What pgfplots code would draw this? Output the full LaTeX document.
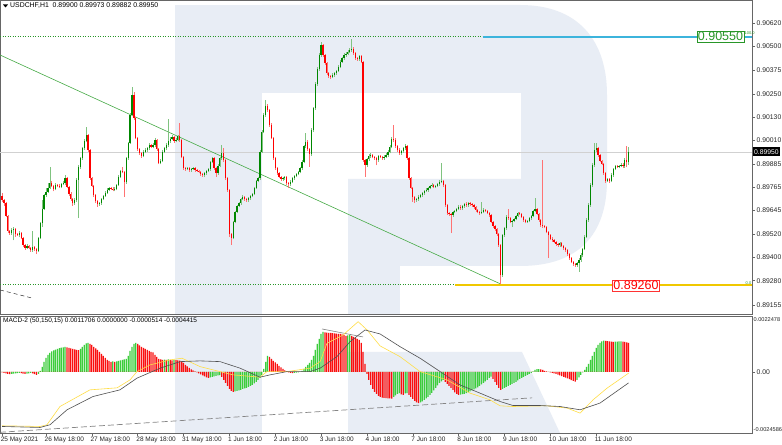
\documentclass[border=0pt]{standalone}
\usepackage{fontspec}
\setmainfont{Liberation Sans}
\usepackage{pgfplots}
\pgfplotsset{compat=1.18}
\usepackage{pgfplotstable}
\definecolor{cgreen}{RGB}{0,135,0}
\definecolor{cred}{RGB}{255,0,0}
\definecolor{hgreen}{RGB}{60,205,60}
\definecolor{hred}{RGB}{250,15,15}
\definecolor{wm}{RGB}{232,237,245}
\definecolor{trend}{RGB}{70,170,70}
\definecolor{cyanl}{RGB}{60,180,220}
\definecolor{gold}{RGB}{240,200,0}
\definecolor{macdy}{RGB}{255,222,70}
\definecolor{macdg}{RGB}{80,80,80}
\definecolor{lblgreen}{RGB}{40,150,40}
\newcommand{\tf}{\fontsize{6.5bp}{7bp}\selectfont}
\newcommand{\hf}{\fontsize{6.9bp}{7.5bp}\selectfont}
\newcommand{\yf}{\fontsize{6.8bp}{7bp}\selectfont}
\pgfplotstableread{
i o h l c
0 0.89721 0.89736 0.89690 0.89700
1 0.89700 0.89706 0.89670 0.89684
2 0.89684 0.89690 0.89610 0.89617
3 0.89617 0.89623 0.89530 0.89539
4 0.89539 0.89545 0.89518 0.89528
5 0.89528 0.89552 0.89520 0.89544
6 0.89544 0.89560 0.89490 0.89549
7 0.89549 0.89555 0.89510 0.89523
8 0.89523 0.89530 0.89512 0.89520
9 0.89520 0.89540 0.89505 0.89528
10 0.89528 0.89534 0.89496 0.89502
11 0.89502 0.89508 0.89458 0.89466
12 0.89466 0.89472 0.89440 0.89450
13 0.89450 0.89470 0.89444 0.89461
14 0.89461 0.89467 0.89443 0.89450
15 0.89450 0.89456 0.89432 0.89440
16 0.89440 0.89540 0.89432 0.89456
17 0.89456 0.89462 0.89437 0.89445
18 0.89445 0.89451 0.89419 0.89435
19 0.89435 0.89508 0.89429 0.89502
20 0.89502 0.89586 0.89496 0.89580
21 0.89580 0.89700 0.89560 0.89653
22 0.89653 0.89732 0.89647 0.89726
23 0.89726 0.89760 0.89715 0.89742
24 0.89742 0.89790 0.89735 0.89762
25 0.89762 0.89872 0.89755 0.89788
26 0.89788 0.89800 0.89765 0.89773
27 0.89773 0.89780 0.89745 0.89757
28 0.89757 0.89790 0.89750 0.89778
29 0.89778 0.89785 0.89765 0.89773
30 0.89773 0.89782 0.89760 0.89768
31 0.89768 0.89790 0.89760 0.89783
32 0.89783 0.89800 0.89776 0.89788
33 0.89788 0.89830 0.89780 0.89814
34 0.89814 0.89820 0.89760 0.89768
35 0.89768 0.89775 0.89722 0.89731
36 0.89731 0.89740 0.89695 0.89705
37 0.89705 0.89712 0.89670 0.89684
38 0.89684 0.89710 0.89676 0.89700
39 0.89700 0.89812 0.89690 0.89804
40 0.89804 0.89880 0.89606 0.89872
41 0.89872 0.89925 0.89860 0.89918
42 0.89918 0.89976 0.89910 0.89970
43 0.89970 0.90015 0.89960 0.90007
44 0.90007 0.90080 0.90000 0.90038
45 0.90038 0.90045 0.89952 0.89960
46 0.89960 0.89966 0.89806 0.89814
47 0.89814 0.89820 0.89765 0.89773
48 0.89773 0.89780 0.89718 0.89726
49 0.89726 0.89732 0.89685 0.89695
50 0.89695 0.89700 0.89665 0.89679
51 0.89679 0.89692 0.89670 0.89684
52 0.89684 0.89712 0.89676 0.89705
53 0.89705 0.89728 0.89698 0.89721
54 0.89721 0.89745 0.89715 0.89736
55 0.89736 0.89760 0.89730 0.89752
56 0.89752 0.89770 0.89745 0.89762
57 0.89762 0.89770 0.89750 0.89758
58 0.89758 0.89766 0.89745 0.89752
59 0.89752 0.89765 0.89745 0.89757
60 0.89757 0.89785 0.89750 0.89778
61 0.89778 0.89828 0.89772 0.89820
62 0.89820 0.89858 0.89812 0.89851
63 0.89851 0.89870 0.89838 0.89846
64 0.89846 0.89852 0.89716 0.89794
65 0.89794 0.89925 0.89785 0.89918
66 0.89918 0.90004 0.89910 0.89996
67 0.89996 0.90150 0.89990 0.90142
68 0.90142 0.90288 0.90135 0.90246
69 0.90246 0.90260 0.90118 0.90126
70 0.90126 0.90132 0.90015 0.90022
71 0.90022 0.90030 0.89957 0.89965
72 0.89965 0.89972 0.89936 0.89944
73 0.89944 0.89950 0.89920 0.89929
74 0.89929 0.89958 0.89922 0.89950
75 0.89950 0.89968 0.89942 0.89960
76 0.89960 0.89978 0.89952 0.89970
77 0.89970 0.89994 0.89962 0.89986
78 0.89986 0.89992 0.89968 0.89976
79 0.89976 0.89994 0.89968 0.89986
80 0.89986 0.90020 0.89978 0.90012
81 0.90012 0.90018 0.89957 0.89965
82 0.89965 0.89970 0.89885 0.89892
83 0.89892 0.89912 0.89885 0.89903
84 0.89903 0.89958 0.89895 0.89950
85 0.89950 0.89978 0.89942 0.89970
86 0.89970 0.89994 0.89962 0.89986
87 0.89986 0.90120 0.89978 0.90007
88 0.90007 0.90028 0.89998 0.90017
89 0.90017 0.90036 0.90010 0.90028
90 0.90028 0.90034 0.89998 0.90007
91 0.90007 0.90020 0.89999 0.90012
92 0.90012 0.90040 0.90005 0.90033
93 0.90033 0.90100 0.90004 0.90012
94 0.90012 0.90018 0.89916 0.89924
95 0.89924 0.89930 0.89858 0.89866
96 0.89866 0.89874 0.89852 0.89861
97 0.89861 0.89874 0.89854 0.89866
98 0.89866 0.89872 0.89848 0.89856
99 0.89856 0.89868 0.89848 0.89861
100 0.89861 0.89874 0.89855 0.89866
101 0.89866 0.89872 0.89848 0.89856
102 0.89856 0.89862 0.89845 0.89851
103 0.89851 0.89858 0.89838 0.89846
104 0.89846 0.89852 0.89826 0.89835
105 0.89835 0.89842 0.89820 0.89830
106 0.89830 0.89848 0.89822 0.89840
107 0.89840 0.89858 0.89832 0.89851
108 0.89851 0.89868 0.89843 0.89861
109 0.89861 0.89905 0.89853 0.89898
110 0.89898 0.89926 0.89890 0.89918
111 0.89918 0.89924 0.89858 0.89866
112 0.89866 0.89872 0.89820 0.89840
113 0.89840 0.89885 0.89832 0.89877
114 0.89877 0.89926 0.89870 0.89918
115 0.89918 0.89986 0.89910 0.89944
116 0.89944 0.89972 0.89900 0.89908
117 0.89908 0.89915 0.89806 0.89814
118 0.89814 0.89820 0.89744 0.89752
119 0.89752 0.89758 0.89510 0.89523
120 0.89523 0.89530 0.89466 0.89502
121 0.89502 0.89592 0.89495 0.89586
122 0.89586 0.89645 0.89578 0.89638
123 0.89638 0.89676 0.89630 0.89669
124 0.89669 0.89692 0.89662 0.89684
125 0.89684 0.89712 0.89676 0.89705
126 0.89705 0.89724 0.89698 0.89716
127 0.89716 0.89722 0.89697 0.89705
128 0.89705 0.89712 0.89690 0.89700
129 0.89700 0.89718 0.89692 0.89710
130 0.89710 0.89728 0.89702 0.89721
131 0.89721 0.89738 0.89713 0.89731
132 0.89731 0.89770 0.89724 0.89762
133 0.89762 0.89806 0.89755 0.89799
134 0.89799 0.89822 0.89792 0.89814
135 0.89814 0.89958 0.89806 0.89950
136 0.89950 0.90062 0.89942 0.90054
137 0.90054 0.90150 0.90046 0.90142
138 0.90142 0.90220 0.90134 0.90189
139 0.90189 0.90200 0.90160 0.90168
140 0.90168 0.90175 0.90082 0.90090
141 0.90090 0.90098 0.90015 0.90022
142 0.90022 0.90030 0.89910 0.89918
143 0.89918 0.89925 0.89858 0.89866
144 0.89866 0.89872 0.89832 0.89840
145 0.89840 0.89848 0.89812 0.89820
146 0.89820 0.89826 0.89800 0.89809
147 0.89809 0.89822 0.89800 0.89814
148 0.89814 0.89826 0.89806 0.89818
149 0.89818 0.89825 0.89780 0.89788
150 0.89788 0.89795 0.89762 0.89783
151 0.89783 0.89802 0.89775 0.89794
152 0.89794 0.89822 0.89786 0.89814
153 0.89814 0.89832 0.89806 0.89825
154 0.89825 0.89842 0.89818 0.89835
155 0.89835 0.89852 0.89828 0.89846
156 0.89846 0.89874 0.89838 0.89866
157 0.89866 0.89906 0.89858 0.89898
158 0.89898 0.89988 0.89890 0.89981
159 0.89981 0.90050 0.89972 0.90002
160 0.90002 0.90010 0.89956 0.89965
161 0.89965 0.89972 0.89872 0.89939
162 0.89939 0.90072 0.89930 0.90064
163 0.90064 0.90186 0.90056 0.90178
164 0.90178 0.90312 0.90170 0.90303
165 0.90303 0.90390 0.90295 0.90381
166 0.90381 0.90462 0.90372 0.90454
167 0.90454 0.90522 0.90446 0.90506
168 0.90506 0.90512 0.90446 0.90454
169 0.90454 0.90460 0.90404 0.90412
170 0.90412 0.90418 0.90352 0.90360
171 0.90360 0.90366 0.90336 0.90345
172 0.90345 0.90352 0.90330 0.90340
173 0.90340 0.90358 0.90332 0.90350
174 0.90350 0.90368 0.90342 0.90360
175 0.90360 0.90378 0.90352 0.90371
176 0.90371 0.90400 0.90364 0.90392
177 0.90392 0.90426 0.90385 0.90418
178 0.90418 0.90446 0.90410 0.90438
179 0.90438 0.90462 0.90430 0.90454
180 0.90454 0.90468 0.90446 0.90459
181 0.90459 0.90478 0.90452 0.90470
182 0.90470 0.90490 0.90462 0.90480
183 0.90480 0.90537 0.90472 0.90485
184 0.90485 0.90495 0.90455 0.90464
185 0.90464 0.90472 0.90430 0.90438
186 0.90438 0.90446 0.90424 0.90433
187 0.90433 0.90456 0.90425 0.90449
188 0.90449 0.90455 0.90410 0.90418
189 0.90418 0.90424 0.89900 0.89908
190 0.89908 0.89915 0.89820 0.89882
191 0.89882 0.89920 0.89874 0.89913
192 0.89913 0.89937 0.89905 0.89929
193 0.89929 0.89942 0.89920 0.89934
194 0.89934 0.89940 0.89916 0.89924
195 0.89924 0.89930 0.89910 0.89918
196 0.89918 0.89925 0.89880 0.89908
197 0.89908 0.89936 0.89900 0.89929
198 0.89929 0.89936 0.89916 0.89924
199 0.89924 0.89930 0.89910 0.89918
200 0.89918 0.89932 0.89910 0.89924
201 0.89924 0.89942 0.89916 0.89934
202 0.89934 0.89958 0.89926 0.89950
203 0.89950 0.89984 0.89942 0.89976
204 0.89976 0.90025 0.89968 0.90017
205 0.90017 0.90090 0.90004 0.90012
206 0.90012 0.90020 0.89972 0.89981
207 0.89981 0.89988 0.89952 0.89960
208 0.89960 0.89968 0.89936 0.89944
209 0.89944 0.89962 0.89936 0.89955
210 0.89955 0.89978 0.89946 0.89970
211 0.89970 0.89990 0.89962 0.89981
212 0.89981 0.89988 0.89910 0.89918
213 0.89918 0.89925 0.89806 0.89814
214 0.89814 0.89820 0.89755 0.89762
215 0.89762 0.89770 0.89690 0.89716
216 0.89716 0.89722 0.89684 0.89700
217 0.89700 0.89712 0.89692 0.89705
218 0.89705 0.89724 0.89697 0.89716
219 0.89716 0.89733 0.89708 0.89726
220 0.89726 0.89744 0.89718 0.89736
221 0.89736 0.89754 0.89728 0.89747
222 0.89747 0.89760 0.89740 0.89752
223 0.89752 0.89770 0.89744 0.89762
224 0.89762 0.89780 0.89755 0.89773
225 0.89773 0.89786 0.89765 0.89778
226 0.89778 0.89784 0.89760 0.89768
227 0.89768 0.89780 0.89760 0.89773
228 0.89773 0.89790 0.89765 0.89783
229 0.89783 0.89802 0.89775 0.89794
230 0.89794 0.89892 0.89786 0.89799
231 0.89799 0.89806 0.89770 0.89778
232 0.89778 0.89785 0.89666 0.89674
233 0.89674 0.89680 0.89624 0.89632
234 0.89632 0.89640 0.89618 0.89627
235 0.89627 0.89634 0.89528 0.89622
236 0.89622 0.89645 0.89614 0.89638
237 0.89638 0.89650 0.89630 0.89643
238 0.89643 0.89660 0.89636 0.89653
239 0.89653 0.89672 0.89646 0.89664
240 0.89664 0.89672 0.89650 0.89658
241 0.89658 0.89676 0.89650 0.89669
242 0.89669 0.89686 0.89660 0.89679
243 0.89679 0.89688 0.89666 0.89674
244 0.89674 0.89692 0.89666 0.89684
245 0.89684 0.89690 0.89670 0.89679
246 0.89679 0.89686 0.89666 0.89674
247 0.89674 0.89680 0.89655 0.89664
248 0.89664 0.89670 0.89640 0.89648
249 0.89648 0.89655 0.89630 0.89638
250 0.89638 0.89645 0.89624 0.89632
251 0.89632 0.89690 0.89625 0.89638
252 0.89638 0.89656 0.89630 0.89648
253 0.89648 0.89655 0.89635 0.89643
254 0.89643 0.89650 0.89625 0.89632
255 0.89632 0.89638 0.89614 0.89622
256 0.89622 0.89628 0.89578 0.89586
257 0.89586 0.89592 0.89556 0.89565
258 0.89565 0.89572 0.89540 0.89549
259 0.89549 0.89556 0.89515 0.89523
260 0.89523 0.89530 0.89458 0.89466
261 0.89466 0.89472 0.89263 0.89310
262 0.89310 0.89525 0.89300 0.89518
263 0.89518 0.89562 0.89510 0.89554
264 0.89554 0.89620 0.89546 0.89612
265 0.89612 0.89655 0.89598 0.89606
266 0.89606 0.89612 0.89578 0.89586
267 0.89586 0.89598 0.89560 0.89591
268 0.89591 0.89608 0.89584 0.89601
269 0.89601 0.89624 0.89594 0.89617
270 0.89617 0.89640 0.89610 0.89632
271 0.89632 0.89640 0.89620 0.89628
272 0.89628 0.89634 0.89604 0.89612
273 0.89612 0.89618 0.89588 0.89596
274 0.89596 0.89602 0.89578 0.89586
275 0.89586 0.89598 0.89580 0.89591
276 0.89591 0.89614 0.89584 0.89606
277 0.89606 0.89624 0.89598 0.89617
278 0.89617 0.89650 0.89610 0.89643
279 0.89643 0.89712 0.89636 0.89653
280 0.89653 0.89660 0.89620 0.89627
281 0.89627 0.89634 0.89588 0.89596
282 0.89596 0.89602 0.89560 0.89570
283 0.89570 0.89908 0.89556 0.89565
284 0.89565 0.89572 0.89552 0.89560
285 0.89560 0.89566 0.89526 0.89534
286 0.89534 0.89540 0.89400 0.89518
287 0.89518 0.89524 0.89490 0.89497
288 0.89497 0.89505 0.89484 0.89492
289 0.89492 0.89498 0.89474 0.89482
290 0.89482 0.89488 0.89463 0.89471
291 0.89471 0.89478 0.89458 0.89466
292 0.89466 0.89484 0.89458 0.89476
293 0.89476 0.89482 0.89453 0.89461
294 0.89461 0.89468 0.89442 0.89450
295 0.89450 0.89456 0.89432 0.89440
296 0.89440 0.89446 0.89411 0.89419
297 0.89419 0.89425 0.89390 0.89398
298 0.89398 0.89404 0.89370 0.89378
299 0.89378 0.89384 0.89358 0.89367
300 0.89367 0.89374 0.89352 0.89362
301 0.89362 0.89380 0.89354 0.89372
302 0.89372 0.89396 0.89326 0.89388
303 0.89388 0.89422 0.89380 0.89414
304 0.89414 0.89452 0.89406 0.89445
305 0.89445 0.89516 0.89438 0.89508
306 0.89508 0.89604 0.89500 0.89596
307 0.89596 0.89682 0.89588 0.89674
308 0.89674 0.89786 0.89666 0.89778
309 0.89778 0.89890 0.89770 0.89882
310 0.89882 0.89996 0.89874 0.89960
311 0.89960 0.89996 0.89950 0.89970
312 0.89970 0.89976 0.89926 0.89934
313 0.89934 0.89940 0.89895 0.89903
314 0.89903 0.89910 0.89880 0.89887
315 0.89887 0.89894 0.89832 0.89840
316 0.89840 0.89846 0.89790 0.89799
317 0.89799 0.89816 0.89792 0.89809
318 0.89809 0.89816 0.89790 0.89799
319 0.89799 0.89838 0.89792 0.89830
320 0.89830 0.89868 0.89822 0.89861
321 0.89861 0.89884 0.89854 0.89877
322 0.89877 0.89884 0.89864 0.89872
323 0.89872 0.89884 0.89864 0.89877
324 0.89877 0.89890 0.89870 0.89882
325 0.89882 0.89890 0.89868 0.89877
326 0.89877 0.89918 0.89868 0.89910
327 0.89910 0.89980 0.89870 0.89900
328 0.89900 0.89973 0.89882 0.89950
}\candles
\pgfplotstableread{
i v g
0 -0.000020 0
1 -0.000040 0
2 -0.000060 0
3 -0.000080 0
4 -0.000092 0
5 -0.000080 1
6 -0.000068 1
7 -0.000056 1
8 -0.000048 1
9 -0.000040 1
10 -0.000052 0
11 -0.000068 0
12 -0.000080 0
13 -0.000068 1
14 -0.000056 1
15 -0.000044 1
16 -0.000060 0
17 -0.000088 0
18 -0.000120 0
19 -0.000080 1
20 0.000040 1
21 0.000201 1
22 0.000401 1
23 0.000562 1
24 0.000682 1
25 0.000763 1
26 0.000823 1
27 0.000863 1
28 0.000895 1
29 0.000923 1
30 0.000951 1
31 0.000971 1
32 0.000987 1
33 0.001004 1
34 0.000987 0
35 0.000963 0
36 0.000943 0
37 0.000923 0
38 0.000903 0
39 0.000883 0
40 0.000880 0
41 0.000923 1
42 0.001004 1
43 0.001084 1
44 0.001144 1
45 0.001164 1
46 0.001124 0
47 0.001084 0
48 0.001004 0
49 0.000943 0
50 0.000883 0
51 0.000803 0
52 0.000723 0
53 0.000642 0
54 0.000562 0
55 0.000482 0
56 0.000442 0
57 0.000401 0
58 0.000421 1
59 0.000401 0
60 0.000421 1
61 0.000442 1
62 0.000462 1
63 0.000482 1
64 0.000502 1
65 0.000522 1
66 0.000642 1
67 0.000843 1
68 0.001004 1
69 0.001124 1
70 0.001164 1
71 0.001124 0
72 0.001064 0
73 0.001004 0
74 0.000963 0
75 0.000923 0
76 0.000883 0
77 0.000843 0
78 0.000803 0
79 0.000783 0
80 0.000682 0
81 0.000602 0
82 0.000522 0
83 0.000502 0
84 0.000482 0
85 0.000494 1
86 0.000482 0
87 0.000502 1
88 0.000482 0
89 0.000462 0
90 0.000482 1
91 0.000474 0
92 0.000462 0
93 0.000454 0
94 0.000421 0
95 0.000361 0
96 0.000281 0
97 0.000221 0
98 0.000161 0
99 0.000100 0
100 0.000060 0
101 0.000020 0
102 -0.000020 0
103 -0.000060 0
104 -0.000100 0
105 -0.000140 0
106 -0.000181 0
107 -0.000221 0
108 -0.000241 0
109 -0.000221 1
110 -0.000201 1
111 -0.000181 1
112 -0.000161 1
113 -0.000140 1
114 -0.000132 1
115 -0.000201 0
116 -0.000321 0
117 -0.000442 0
118 -0.000562 0
119 -0.000682 0
120 -0.000763 0
121 -0.000803 0
122 -0.000783 1
123 -0.000763 1
124 -0.000743 1
125 -0.000723 1
126 -0.000682 1
127 -0.000662 1
128 -0.000642 1
129 -0.000602 1
130 -0.000562 1
131 -0.000522 1
132 -0.000462 1
133 -0.000401 1
134 -0.000321 1
135 -0.000241 1
136 -0.000120 1
137 0.000120 1
138 0.000401 1
139 0.000642 1
140 0.000602 0
141 0.000522 0
142 0.000442 0
143 0.000381 0
144 0.000321 0
145 0.000241 0
146 0.000181 0
147 0.000120 0
148 0.000060 0
149 0.000020 0
150 -0.000020 0
151 -0.000040 0
152 -0.000048 0
153 -0.000040 1
154 -0.000032 1
155 -0.000020 1
156 0.000000 1
157 0.000040 1
158 0.000120 1
159 0.000201 1
160 0.000281 1
161 0.000361 1
162 0.000482 1
163 0.000642 1
164 0.000883 1
165 0.001124 1
166 0.001325 1
167 0.001525 1
168 0.001606 1
169 0.001594 0
170 0.001582 0
171 0.001573 0
172 0.001565 0
173 0.001557 0
174 0.001549 0
175 0.001541 0
176 0.001533 0
177 0.001525 0
178 0.001505 0
179 0.001485 0
180 0.001445 0
181 0.001465 1
182 0.001485 1
183 0.001445 0
184 0.001405 0
185 0.001365 0
186 0.001325 0
187 0.001284 0
188 0.001164 0
189 0.000803 0
190 0.000321 0
191 -0.000080 0
192 -0.000321 0
193 -0.000522 0
194 -0.000682 0
195 -0.000803 0
196 -0.000883 0
197 -0.000963 0
198 -0.001004 0
199 -0.001032 0
200 -0.001044 0
201 -0.001056 0
202 -0.001064 0
203 -0.001068 0
204 -0.001072 0
205 -0.001004 1
206 -0.000943 1
207 -0.000883 1
208 -0.000855 1
209 -0.000903 0
210 -0.000923 0
211 -0.000863 1
212 -0.000855 1
213 -0.000923 0
214 -0.001004 0
215 -0.001084 0
216 -0.001164 0
217 -0.001224 0
218 -0.001256 0
219 -0.001224 1
220 -0.001184 1
221 -0.001124 1
222 -0.001064 1
223 -0.001004 1
224 -0.000923 1
225 -0.000843 1
226 -0.000743 1
227 -0.000642 1
228 -0.000542 1
229 -0.000442 1
230 -0.000381 1
231 -0.000321 1
232 -0.000401 0
233 -0.000482 0
234 -0.000562 0
235 -0.000642 0
236 -0.000723 0
237 -0.000823 0
238 -0.000883 0
239 -0.000923 0
240 -0.000911 1
241 -0.000895 1
242 -0.000883 1
243 -0.000855 1
244 -0.000823 1
245 -0.000783 1
246 -0.000743 1
247 -0.000702 1
248 -0.000662 1
249 -0.000622 1
250 -0.000562 1
251 -0.000502 1
252 -0.000442 1
253 -0.000381 1
254 -0.000321 1
255 -0.000241 1
256 -0.000189 1
257 -0.000281 0
258 -0.000401 0
259 -0.000522 0
260 -0.000642 0
261 -0.000723 0
262 -0.000682 1
263 -0.000642 1
264 -0.000602 1
265 -0.000562 1
266 -0.000522 1
267 -0.000482 1
268 -0.000442 1
269 -0.000401 1
270 -0.000341 1
271 -0.000281 1
272 -0.000241 1
273 -0.000201 1
274 -0.000161 1
275 -0.000120 1
276 -0.000080 1
277 -0.000040 1
278 0.000020 1
279 0.000080 1
280 0.000108 1
281 0.000112 1
282 0.000100 0
283 0.000080 0
284 0.000040 0
285 0.000020 0
286 0.000000 0
287 -0.000020 0
288 -0.000040 0
289 -0.000060 0
290 -0.000080 0
291 -0.000112 0
292 -0.000140 0
293 -0.000169 0
294 -0.000201 0
295 -0.000233 0
296 -0.000261 0
297 -0.000293 0
298 -0.000329 0
299 -0.000361 0
300 -0.000389 0
301 -0.000321 1
302 -0.000221 1
303 -0.000120 1
304 -0.000020 1
305 0.000080 1
306 0.000201 1
307 0.000321 1
308 0.000482 1
309 0.000642 1
310 0.000803 1
311 0.000963 1
312 0.001084 1
313 0.001164 1
314 0.001224 1
315 0.001256 1
316 0.001244 0
317 0.001236 0
318 0.001224 0
319 0.001216 0
320 0.001204 0
321 0.001212 1
322 0.001220 1
323 0.001224 1
324 0.001228 1
325 0.001216 0
326 0.001204 0
327 0.001184 0
328 0.001171 0
}\hist
\begin{document}
\begin{tikzpicture}
\useasboundingbox (0,0) rectangle (782bp,445bp);
\fill[white] (0,0) rectangle (782bp,445bp);
% watermark (background logo)
\begin{scope}[shift={(0bp,445bp)}, x=1bp, y=-1bp]
  \fill[wm] (175,5) rectangle (262,314);
  \fill[wm] (175,316) rectangle (262,433);
  \fill[wm] (262,5) -- (520,5) .. controls (578,5) and (607,40) .. (607,95) -- (607,180) .. controls (607,235) and (578,266) .. (520,266) -- (348,266) -- (348,179) -- (521,179) -- (521,93) -- (262,93) -- cycle;
  \fill[wm] (348,266) rectangle (400,314);
  \fill[wm] (348,352) -- (522,352) -- (560,433) -- (348,433) -- cycle;
\end{scope}
% ---------------- main price panel ----------------
\begin{axis}[at={(0bp,131bp)}, anchor=south west, scale only axis,
  width=752bp, height=314bp,
  xmin=-1.09, xmax=392.6, ymin=0.89107, ymax=0.90740,
  axis line style={draw=black!60, line width=0.7bp},
  xtick=\empty, scaled y ticks=false,
  ytick={0.90620,0.90500,0.90375,0.90250,0.90130,0.90010,0.89885,0.89765,0.89645,0.89520,0.89400,0.89280,0.89155},
  yticklabels={0.90620,0.90500,0.90375,0.90250,0.90130,0.90010,0.89885,0.89765,0.89645,0.89520,0.89400,0.89280,0.89155},
  yticklabel pos=right, tick align=outside, major tick length=3bp,
  ytick style={draw=black!60, line width=0.5bp},
  yticklabel style={font=\yf, text=black!85, anchor=west, inner sep=0pt, xshift=1.5bp},
  clip=true]
  \addplot[black!18, line width=0.7bp] coordinates {(-1.09,0.89950) (392.6,0.89950)};
  \addplot[lblgreen, line width=0.5bp, dash pattern=on 1bp off 1.5bp] coordinates {(-1.09,0.90550) (392.6,0.90550)};
  \addplot[lblgreen, line width=0.5bp, dash pattern=on 1bp off 1.5bp] coordinates {(-1.09,0.89260) (392.6,0.89260)};
  \addplot[trend, line width=0.6bp] coordinates {(-1.09,0.90454) (261,0.89263)};
  \addplot[black!80, line width=0.5bp, dash pattern=on 4bp off 3bp] coordinates {(-1.09,0.89232) (15.7,0.89190)};
  \addplot[draw=cgreen!50, line width=0.6bp, quiver={u=0, v=\thisrow{h}-\thisrow{l}},
     restrict expr to domain={\thisrow{c}-\thisrow{o}}{0:1}] table[x=i, y=l] {\candles};
  \addplot[draw=cred!55, line width=0.6bp, quiver={u=0, v=\thisrow{h}-\thisrow{l}},
     restrict expr to domain={\thisrow{o}-\thisrow{c}}{0.000001:1}] table[x=i, y=l] {\candles};
  \addplot[draw=cgreen, line width=1.25bp, quiver={u=0, v=\thisrow{c}-\thisrow{o}},
     restrict expr to domain={\thisrow{c}-\thisrow{o}}{0:1}] table[x=i, y=o] {\candles};
  \addplot[draw=cred, line width=1.25bp, quiver={u=0, v=\thisrow{o}-\thisrow{c}},
     restrict expr to domain={\thisrow{o}-\thisrow{c}}{0.000001:1}] table[x=i, y=c] {\candles};
  \addplot[cyanl, line width=2bp] coordinates {(251.8,0.90550) (392.6,0.90550)};
  \addplot[gold, line width=2bp] coordinates {(237.1,0.89260) (392.6,0.89260)};
\end{axis}
% ---------------- MACD panel ----------------
\begin{axis}[at={(0bp,12bp)}, anchor=south west, scale only axis,
  width=752bp, height=117bp,
  xmin=-1.09, xmax=392.6, ymin=-0.0024586, ymax=0.0022478,
  axis line style={draw=black!60, line width=0.7bp},
  scaled y ticks=false, scaled x ticks=false,
  ytick={0}, yticklabels={0.00},
  yticklabel pos=right, tick align=outside, major tick length=3bp,
  ytick style={draw=black!60, line width=0.5bp},
  yticklabel style={font=\yf, text=black!85, anchor=west, inner sep=0pt, xshift=1.5bp},
  xtick={0,23,47,71,95,119,143,167,191,215,239,263,287,311},
  xticklabels={25 May 2021,26 May 18:00,27 May 18:00,28 May 18:00,31 May 18:00,1 Jun 18:00,2 Jun 18:00,3 Jun 18:00,4 Jun 18:00,7 Jun 18:00,8 Jun 18:00,9 Jun 18:00,10 Jun 18:00,11 Jun 18:00},
  xtick pos=bottom, xtick style={draw=black!60, line width=0.5bp},
  xticklabel style={font=\tf, text=black!85, anchor=north west, inner sep=0pt, xshift=-1.5bp, yshift=-0.5bp},
  clip=true]
  \addplot[ybar, bar width=1.25bp, bar shift=0pt, fill=hgreen, draw=none] table[x=i, y expr={\thisrow{v}*\thisrow{g}}] {\hist};
  \addplot[ybar, bar width=1.25bp, bar shift=0pt, fill=hred, draw=none] table[x=i, y expr={\thisrow{v}*(1-\thisrow{g})}] {\hist};
  \addplot[macdg!70, line width=0.7bp, dash pattern=on 6bp off 3bp] coordinates {(-1.09,-0.002430) (277.5,-0.001044)};
  \addplot[macdg!70, line width=0.6bp] coordinates {(167.5,0.001726) (189,0.001405)};
  \addplot[macdy, line width=0.6bp] coordinates {(0,-0.002168) (19.9,-0.002196) (23.5,-0.002127) (30.3,-0.001393) (46.0,-0.000723) (60.2,-0.000642) (67.0,-0.000321) (70.6,0.000012) (77.4,0.000281) (87.9,0.000482) (94.2,0.000550) (103.6,0.000213) (120.9,-0.000120) (135.0,-0.000213) (138.7,0.000012) (149.2,0.000012) (161.2,0.000149) (166.5,0.000413) (170.1,0.001152) (178.5,0.001485) (186.4,0.002019) (191.1,0.001686) (197.9,0.001044) (208.3,0.000614) (218.8,0.000012) (232.9,-0.000321) (245.0,-0.000855) (255.4,-0.001124) (260.7,-0.001365) (267.5,-0.001393) (285.3,-0.001365) (295.8,-0.001457) (302.6,-0.001658) (309.4,-0.001124) (316.7,-0.000654) (328,-0.000051)};
  \addplot[macdg, line width=0.6bp] coordinates {(0,-0.002196) (19.9,-0.002236) (25.1,-0.002127) (34.0,-0.001525) (47.6,-0.000991) (61.7,-0.000723) (70.6,-0.000253) (82.7,0.000149) (93.2,0.000413) (103.6,0.000442) (114.1,0.000413) (124.6,0.000149) (135.0,-0.000213) (140.3,-0.000120) (149.2,0.000012) (161.2,0.000012) (166.5,0.000149) (175.3,0.000614) (182.2,0.001216) (190.0,0.001686) (197.9,0.001525) (208.3,0.001016) (218.8,0.000550) (229.3,0.000012) (239.7,-0.000522) (250.2,-0.000855) (260.7,-0.001192) (267.5,-0.001353) (281.6,-0.001353) (292.1,-0.001393) (302.6,-0.001525) (313.0,-0.001256) (328,-0.000442)};
\end{axis}
% ---------------- texts in pixel coordinates ----------------
\begin{scope}[shift={(0bp,445bp)}, x=1bp, y=-1bp]
  \fill[black] (3,4.5) -- (8,4.5) -- (5.5,7.5) -- cycle;
  \node[anchor=west, font=\hf, inner sep=0pt] at (10,6) {USDCHF,H1\ \ 0.89900\ 0.89973\ 0.89882\ 0.89950};
  \node[anchor=west, font=\tf, inner sep=0pt] at (3,321) {MACD-2 (50,150,15) 0.0011706 0.0000000 -0.0000514 -0.0004415};
  \node[anchor=west, fill=black, text=white, font=\yf, inner sep=1bp, minimum height=9bp] at (753,152) {0.89950};
  \node[anchor=west, font=\fontsize{5.6bp}{6bp}\selectfont, text=black!85, inner sep=0pt] at (753.5,320) {0.0022478};
  \node[anchor=west, font=\fontsize{5.6bp}{6bp}\selectfont, text=black!85, inner sep=0pt] at (753.5,430) {-0.0024586};
  \node[anchor=east, font=\fontsize{4bp}{4bp}\selectfont, text=lblgreen, inner sep=0pt] at (751.5,283) {0.0};
  \node[anchor=west, font=\fontsize{4bp}{4bp}\selectfont, text=lblgreen, inner sep=0pt] at (744.5,33) {100.0};
  \node[draw=lblgreen, line width=0.6bp, fill=white, text=lblgreen, font=\fontsize{12.5bp}{13bp}\selectfont, inner sep=1bp, minimum width=47bp] at (720.5,36.5) {0.90550};
  \node[draw=red!80, line width=0.6bp, fill=white, text=red, font=\fontsize{12.5bp}{13bp}\selectfont, inner sep=1bp, minimum width=46bp] at (636,285.5) {0.89260};
\end{scope}
\end{tikzpicture}
\end{document}
